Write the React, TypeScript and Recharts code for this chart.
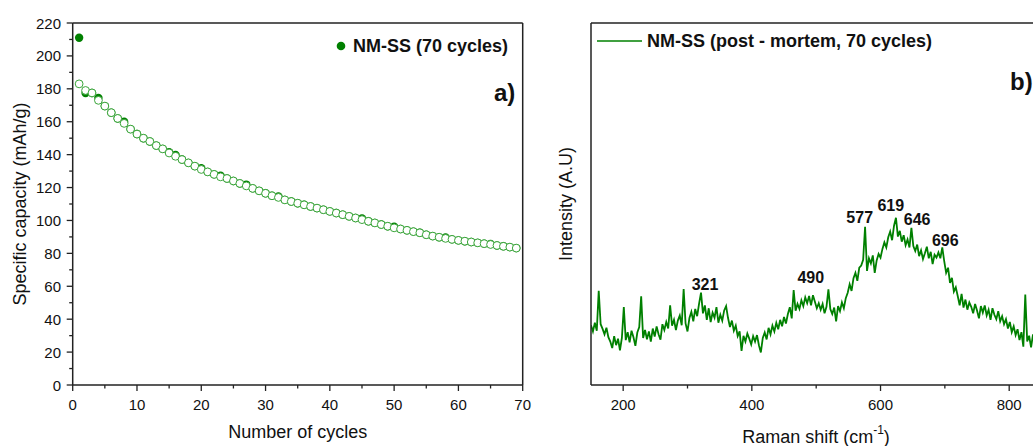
import React from 'react';
import {
  ScatterChart, Scatter, LineChart, Line, XAxis, YAxis, ReferenceLine, ReferenceDot, Label,
} from 'recharts';

// a) cycling: first point of each cycle (filled) and the hollow series drawn on top
const filledCapacity = [
  211, 177.5, 177.5, 174.5, 169.5, 165.5, 162, 160, 155.5, 152.5,
  150, 148, 145.5, 143.5, 141.5, 139.8, 137, 135, 133, 131.8,
  129.5, 128, 127.2, 125.5, 124, 122.5, 121.8, 119.5, 118, 116.5,
  115, 114.6, 112.5, 111.5, 110.5, 109.5, 108.5, 107.5, 106.5, 105.5,
  104.5, 103.5, 102.5, 101.5, 101.2, 99.5, 98.5, 97.5, 96.5, 96.2,
  94.8, 94, 93.2, 92.5, 91.3, 90.5, 89.8, 89.6, 88.5, 87.9,
  87.4, 86.9, 86.4, 85.9, 85.7, 84.8, 84.3, 83.8, 83.2,
];
const hollowCapacity = [
  183, 179, 177.5, 173, 169.5, 165.5, 162, 159, 155.5, 152.5,
  150, 148, 145.5, 143.5, 141, 139, 137, 135, 133, 131,
  129.5, 128, 126.5, 125.5, 124, 122.5, 121, 119.5, 118, 116.5,
  115, 114, 112.5, 111.5, 110.5, 109.5, 108.5, 107.5, 106.5, 105.5,
  104.5, 103.5, 102.5, 101.5, 100.5, 99.5, 98.5, 97.5, 96.5, 95.5,
  94.8, 94, 93.2, 92.5, 91.3, 90.5, 89.8, 89.1, 88.5, 87.9,
  87.4, 86.9, 86.4, 85.9, 85.4, 84.8, 84.3, 83.8, 83.2,
];
const cycleTicks = [0, 5, 10, 15, 20, 25, 30, 35, 40, 45, 50, 55, 60, 65, 70];
const capacityTicks = [0, 10, 20, 30, 40, 50, 60, 70, 80, 90, 100, 110, 120, 130, 140, 150, 160, 170, 180, 190, 200, 210, 220];

// b) Raman spectrum, 150..837 cm-1 every 3 cm-1 (a.u.)
const ramanStart = 150;
const ramanStep = 3;
const ramanIntensity = [
  16.5, 14.8, 17.2, 15.0, 26.0, 16.8, 15.5, 14.0, 15.8, 13.2,
  12.0, 10.2, 13.5, 11.0, 12.8, 9.6, 13.0, 21.5, 12.4, 14.6,
  11.8, 15.0, 13.2, 10.8, 14.5, 16.0, 24.5, 13.0, 15.2, 12.6,
  14.8, 12.0, 15.6, 13.4, 16.2, 14.0, 12.5, 16.8, 15.2, 17.4,
  15.6, 22.0, 16.4, 18.0, 15.2, 17.8, 19.2, 16.5, 26.5, 17.0,
  14.8, 18.5, 20.2, 17.6, 21.0, 19.0, 22.5, 25.5, 19.8, 22.0,
  18.0, 21.2, 17.4, 20.0, 18.6, 21.5, 17.2, 19.4, 17.8, 20.6,
  21.8, 18.5, 16.0, 17.8, 15.0, 16.4, 13.5, 14.8, 9.4, 13.6,
  12.0, 14.2, 12.8, 11.2, 13.5, 12.0, 13.8, 11.0, 9.0, 13.0,
  14.5, 12.6, 15.8, 14.0, 16.4, 14.8, 17.2, 15.4, 18.0, 16.2,
  18.8, 17.0, 19.6, 21.5, 18.4, 26.2, 20.5, 22.4, 21.0, 23.4,
  21.8, 24.2, 22.6, 24.6, 22.0, 24.8, 23.0, 21.2, 22.6, 20.8,
  22.4, 19.8, 21.6, 26.4, 21.0, 19.6, 21.4, 17.6, 21.8, 20.4,
  22.8, 21.2, 24.0, 25.5, 27.8, 26.0, 29.5, 31.0, 28.8, 32.4,
  33.0, 34.6, 43.7, 31.5, 35.0, 33.6, 35.8, 31.0, 34.4, 36.2,
  35.2, 37.6, 39.4, 38.0, 40.8, 42.4, 40.0, 44.0, 46.2, 41.0,
  42.6, 39.6, 41.4, 38.6, 40.2, 38.0, 43.4, 38.4, 37.0, 38.8,
  35.6, 37.2, 34.8, 36.4, 38.2, 35.0, 36.8, 33.4, 36.0, 35.2,
  36.6, 35.0, 38.0, 34.2, 31.0, 32.4, 28.2, 29.6, 25.8, 27.0,
  24.6, 22.0, 25.2, 21.4, 23.6, 20.8, 22.8, 21.6, 19.8, 22.4,
  20.6, 18.4, 21.8, 20.0, 22.0, 19.2, 20.8, 18.0, 21.2, 19.4,
  18.2, 20.4, 17.6, 19.0, 16.8, 18.2, 15.6, 17.4, 14.6, 16.2,
  13.8, 15.4, 12.4, 14.6, 10.6, 25.0, 12.0, 13.6, 10.4, 14.0,
];
const ramanTicks = [200, 300, 400, 500, 600, 700, 800];
const peakShifts = [321, 490, 577, 619, 646, 696];
const peakLabelHeights = [27.9, 29.8, 46.3, 49.6, 45.9, 39.9];
const peakLabelDx = [4, 1, -6, -2, 7, 3];

const filledData = filledCapacity.map((c, i) => ({ cycle: i + 1, capacity: c }));
const hollowData = hollowCapacity.map((c, i) => ({ cycle: i + 1, capacity: c }));
const ramanData = ramanIntensity.map((v, i) => ({ shift: ramanStart + i * ramanStep, intensity: v }));

const FONT = '"Liberation Sans", Arial, sans-serif';
const AXIS = '#222';
const DARK_GREEN = '#008000';
const LIGHT_GREEN = '#3aa53a';
const AXIS_Y = 385;
const LEFT_AXIS_X = 72.7;

const xTick = (isMajor: (v: number) => boolean) => (props: any) => {
  const { x, payload } = props;
  const major = isMajor(payload.value);
  return (
    <g>
      <line x1={x} x2={x} y1={AXIS_Y} y2={AXIS_Y + (major ? 6 : 3.5)} stroke={AXIS} strokeWidth={1.3} />
      {major && (
        <text x={x} y={AXIS_Y + 19} textAnchor="middle" dominantBaseline="central" fontSize={15} fontFamily={FONT} fill="#111">
          {payload.value}
        </text>
      )}
    </g>
  );
};

const yTick = (props: any) => {
  const { y, payload } = props;
  const major = payload.value % 20 === 0;
  return (
    <g>
      <line x1={LEFT_AXIS_X - (major ? 6 : 3.5)} x2={LEFT_AXIS_X} y1={y} y2={y} stroke={AXIS} strokeWidth={1.3} />
      {major && (
        <text x={61} y={y} textAnchor="end" dominantBaseline="central" fontSize={15} fontFamily={FONT} fill="#111">
          {payload.value}
        </text>
      )}
    </g>
  );
};

const title = (text: React.ReactNode, dx: number, dy: number, vertical = false) => (p: any) => {
  const { x, y, width, height } = p.viewBox;
  const cx = x + width / 2 + dx;
  const cy = y + height / 2 + dy;
  return (
    <text x={cx} y={cy} textAnchor="middle" dominantBaseline="central" fontSize={18} fontFamily={FONT} fill="#111"
      transform={vertical ? `rotate(-90 ${cx} ${cy})` : undefined}>
      {text}
    </text>
  );
};

const legendText: React.CSSProperties = {
  position: 'absolute', display: 'flex', alignItems: 'center', fontFamily: FONT, fontWeight: 700, fontSize: 18, color: '#111', whiteSpace: 'nowrap',
};

export default function App() {
  return (
    <div style={{ position: 'absolute', left: 0, top: 0, width: 1033, height: 446, overflow: 'hidden', background: '#fff', fontFamily: FONT }}>
      <div style={{ position: 'absolute', left: 0, top: 0 }}>
        <ScatterChart width={540} height={446} margin={{ top: 23, right: 17.3, bottom: 0, left: 0 }}>
          <XAxis type="number" dataKey="cycle" domain={[0, 70]} ticks={cycleTicks} interval={0}
            height={61} axisLine={{ stroke: AXIS, strokeWidth: 1.5 }} tickLine={false} tick={xTick((v) => v % 10 === 0)}>
            <Label content={title('Number of cycles', 0, 16.5)} />
          </XAxis>
          <YAxis type="number" dataKey="capacity" domain={[0, 220]} ticks={capacityTicks} interval={0}
            width={LEFT_AXIS_X} axisLine={{ stroke: AXIS, strokeWidth: 1.5 }} tickLine={false} tick={yTick}>
            <Label content={title('Specific capacity (mAh/g)', -16, 0, true)} />
          </YAxis>
          <ReferenceLine y={220} stroke={AXIS} strokeWidth={1.5} />
          <ReferenceLine x={70} stroke={AXIS} strokeWidth={1.5} />
          <Scatter name="NM-SS (70 cycles)" data={filledData} isAnimationActive={false}
            shape={(p: any) => <circle cx={p.cx} cy={p.cy} r={4.2} fill={DARK_GREEN} />} />
          <Scatter name="hollow" data={hollowData} isAnimationActive={false} legendType="none"
            shape={(p: any) => <circle cx={p.cx} cy={p.cy} r={3.9} fill="#fff" stroke={LIGHT_GREEN} strokeWidth={1} />} />
        </ScatterChart>
      </div>
      <div style={{ ...legendText, left: 336, top: 35.5 }}>
        <svg width={12} height={12}><circle cx={5} cy={6} r={4.3} fill={DARK_GREEN} /></svg>
        <span style={{ marginLeft: 5 }}>NM-SS (70 cycles)</span>
      </div>
      <div style={{ position: 'absolute', left: 494, top: 79, fontWeight: 700, fontSize: 24, color: '#111' }}>a)</div>

      <div style={{ position: 'absolute', left: 540, top: 0 }}>
        <LineChart width={493} height={446} data={ramanData} margin={{ top: 23, right: 0, bottom: 0, left: 0 }}>
          <XAxis type="number" dataKey="shift" domain={[150, 837]} ticks={ramanTicks} interval={0} allowDataOverflow
            height={61} axisLine={{ stroke: AXIS, strokeWidth: 1.5 }} tickLine={false} tick={xTick((v) => v % 200 === 0)}>
            <Label content={title(<>Raman shift (cm<tspan dy={-7} fontSize={12}>-1</tspan><tspan dy={7}>)</tspan></>, 4, 21.5)} />
          </XAxis>
          <YAxis type="number" domain={[0, 100]} width={51} tick={false} tickLine={false}
            axisLine={{ stroke: AXIS, strokeWidth: 1.5 }}>
            <Label content={title('Intensity (A.U)', 0, 0, true)} />
          </YAxis>
          <ReferenceLine y={100} stroke={AXIS} strokeWidth={1.5} />
          <Line type="linear" dataKey="intensity" stroke={DARK_GREEN} strokeWidth={1.8} dot={false} isAnimationActive={false} />
          {peakShifts.map((s, i) => (
            <ReferenceDot key={s} x={s} y={peakLabelHeights[i]} r={0} fill="none" stroke="none"
              label={{ value: String(s), position: 'center', dx: peakLabelDx[i], fontSize: 16, fontWeight: 700, fill: '#111', fontFamily: FONT }} />
          ))}
        </LineChart>
      </div>
      <div style={{ ...legendText, left: 597, top: 30.5 }}>
        <svg width={45} height={6}><line x1={0} x2={45} y1={3} y2={3} stroke={DARK_GREEN} strokeWidth={1.6} /></svg>
        <span style={{ marginLeft: 5 }}>NM-SS (post - mortem, 70 cycles)</span>
      </div>
      <div style={{ position: 'absolute', left: 1010, top: 68, fontWeight: 700, fontSize: 24, color: '#111' }}>b)</div>
    </div>
  );
}
